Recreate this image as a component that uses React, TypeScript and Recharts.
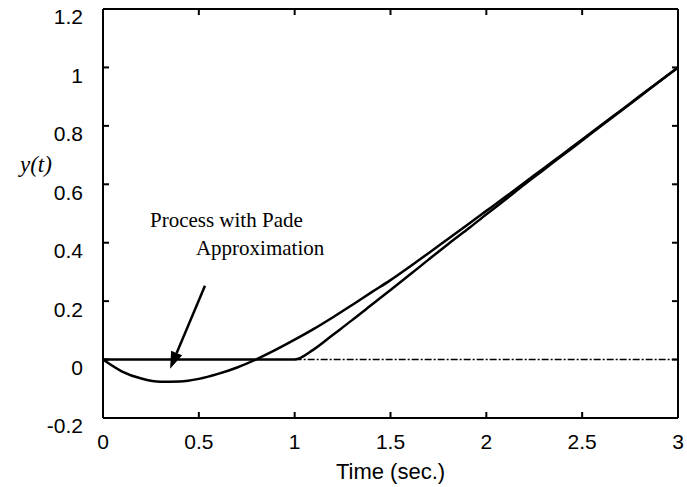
import React from "react";
import {
  LineChart,
  Line,
  XAxis,
  YAxis,
  ReferenceLine,
  ReferenceDot,
} from "recharts";

// time points (sec.)
const times = [
  0, 0.1, 0.2, 0.3, 0.4, 0.5, 0.6, 0.7, 0.8, 0.9, 1.0, 1.1, 1.2, 1.3, 1.4, 1.5,
  1.6, 1.7, 1.8, 1.9, 2.0, 2.1, 2.2, 2.3, 2.4, 2.5, 2.6, 2.7, 2.8, 2.9, 3.0,
];

// process with Pade approximation
const padeValues = [
  0, -0.041, -0.065, -0.076, -0.075, -0.066, -0.049, -0.027, 0.001, 0.033,
  0.068, 0.105, 0.145, 0.187, 0.23, 0.272, 0.318, 0.365, 0.413, 0.461, 0.509,
  0.557, 0.606, 0.655, 0.704, 0.753, 0.803, 0.852, 0.902, 0.951, 1.0,
];

// process with true time delay
const delayValues = [
  0, 0, 0, 0, 0, 0, 0, 0, 0, 0, 0, 0.035, 0.085, 0.135, 0.187, 0.238, 0.29,
  0.343, 0.395, 0.445, 0.497, 0.548, 0.6, 0.65, 0.7, 0.75, 0.8, 0.85, 0.9,
  0.95, 1.0,
];

const xTicks = [0, 0.5, 1, 1.5, 2, 2.5, 3];
const yTicks = [-0.2, 0, 0.2, 0.4, 0.6, 0.8, 1, 1.2];

const chartData = times.map((t, i) => ({
  t,
  pade: padeValues[i],
  delay: delayValues[i],
}));

const tickFont = { fontSize: 21, fill: "#000", fontFamily: "Liberation Sans, Arial, sans-serif" };

function ArrowShape(props: any): JSX.Element {
  const { x1, y1, x2, y2 } = props;
  const ang = Math.atan2(y2 - y1, x2 - x1);
  const len = 17;
  const half = 6;
  const bx = x2 - len * Math.cos(ang);
  const by = y2 - len * Math.sin(ang);
  const px = -Math.sin(ang) * half;
  const py = Math.cos(ang) * half;
  return (
    <g>
      <line x1={x1} y1={y1} x2={bx} y2={by} stroke="#000" strokeWidth={2.5} />
      <polygon
        points={`${x2},${y2} ${bx + px},${by + py} ${bx - px},${by - py}`}
        fill="#000"
      />
    </g>
  );
}

function noteText(text: string) {
  return (props: any) => (
    <text
      x={props.cx}
      y={props.cy}
      fontSize={21}
      fontFamily="Liberation Serif, Times New Roman, serif"
      fill="#000"
      dominantBaseline="middle"
    >
      {text}
    </text>
  );
}

const blank = () => "";

export default function App(): JSX.Element {
  return (
    <div style={{ position: "absolute", left: 0, top: 0, background: "#fff" }}>
      <LineChart
        width={687}
        height={487}
        data={chartData}
        margin={{ top: 8, right: 8, left: 3, bottom: 8 }}
      >
        <XAxis
          dataKey="t"
          type="number"
          domain={[0, 3]}
          ticks={xTicks}
          interval={0}
          height={61}
          stroke="#000"
          strokeWidth={2}
          tickSize={-6}
          tickMargin={22}
          tick={tickFont}
          label={{
            value: "Time (sec.)",
            position: "insideBottom",
            offset: 0,
            fontSize: 22,
            fill: "#000",
            fontFamily: "Liberation Sans, Arial, sans-serif",
          }}
        />
        <XAxis
          xAxisId="top"
          orientation="top"
          dataKey="t"
          type="number"
          domain={[0, 3]}
          ticks={xTicks}
          interval={0}
          height={1}
          stroke="#000"
          strokeWidth={2}
          tickSize={-6}
          tickFormatter={blank}
        />
        <YAxis
          type="number"
          domain={[-0.2, 1.2]}
          ticks={yTicks}
          interval={0}
          width={100}
          stroke="#000"
          strokeWidth={2}
          tickSize={-6}
          tickMargin={26}
          tick={{ ...tickFont, dy: 8 }}
          label={{
            content: (p: any) => (
              <text
                x={p.viewBox.x + 17}
                y={172}
                fontSize={23}
                fontStyle="italic"
                fontFamily="Liberation Serif, Times New Roman, serif"
                fill="#000"
              >
                y(t)
              </text>
            ),
          }}
        />
        <YAxis
          yAxisId="right"
          orientation="right"
          type="number"
          domain={[-0.2, 1.2]}
          ticks={yTicks}
          interval={0}
          width={1}
          stroke="#000"
          strokeWidth={2}
          tickSize={-6}
          tickFormatter={blank}
        />
        <ReferenceLine
          segment={[
            { x: 1, y: 0 },
            { x: 3, y: 0 },
          ]}
          stroke="#000"
          strokeWidth={1.5}
          strokeDasharray="7 2 2 2"
        />
        <Line
          type="monotone"
          dataKey="delay"
          stroke="#000"
          strokeWidth={2.5}
          dot={false}
          isAnimationActive={false}
        />
        <Line
          type="monotone"
          dataKey="pade"
          stroke="#000"
          strokeWidth={2.5}
          dot={false}
          isAnimationActive={false}
        />
        {/* invisible series so the top / right frame axes get their ticks */}
        <Line
          xAxisId="top"
          yAxisId="right"
          dataKey="pade"
          stroke="none"
          dot={false}
          activeDot={false}
          isAnimationActive={false}
        />
        <ReferenceDot x={0.245} y={0.469} r={0} shape={noteText("Process with Pade")} />
        <ReferenceDot x={0.485} y={0.373} r={0} shape={noteText("Approximation")} />
        <ReferenceLine
          segment={[
            { x: 0.532, y: 0.253 },
            { x: 0.35, y: -0.031 },
          ]}
          shape={ArrowShape}
        />
      </LineChart>
    </div>
  );
}
